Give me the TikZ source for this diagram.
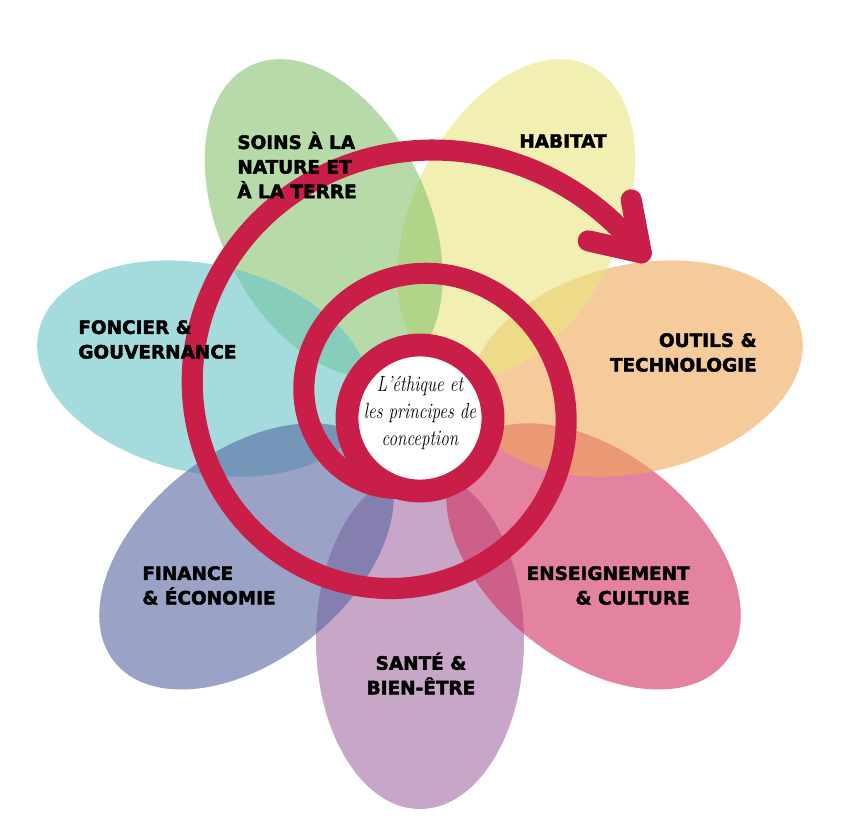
\documentclass[tikz,border=0pt]{standalone}
\usepackage{fontspec}
\usepackage{tikz}
\usetikzlibrary{calc}
\newfontfamily\capsfont{DejaVu Sans}[BoldFeatures={FakeBold=2.2}]
\definecolor{petMauve}{HTML}{A26BA3}
\definecolor{petPink}{HTML}{D23061}
\definecolor{petOrange}{HTML}{F0A85A}
\definecolor{petYellow}{HTML}{E8E67F}
\definecolor{petGreen}{HTML}{87C36E}
\definecolor{petCyan}{HTML}{67C5C8}
\definecolor{petBlue}{HTML}{5766A0}
\definecolor{spiralred}{HTML}{C81E48}
\tikzset{
  petaltext/.style={font=\capsfont\bfseries\fontsize{10.5}{14}\selectfont,inner sep=0pt},
  spiralline/.style={draw=spiralred,line width=12pt,line cap=round,line join=round},
  centertext/.style={font=\itshape\fontsize{12.5}{15.4}\selectfont,align=center,
    inner sep=0pt,xscale=.78,transform shape}
}
\newcommand{\petal}[2]{%
  \fill[#1,fill opacity=.6,rotate=#2] (4.44,0) ellipse [x radius=3.38,y radius=2.08];
}
% radius of the spiral, t in degrees
\newcommand{\spr}[1]{(1.78+0.0044*#1+0.036*(#1/100)^2)}

\begin{document}
\begin{tikzpicture}
\useasboundingbox (-8.4,-8.0) rectangle (8.6,8.36);
% petals, back to front
\petal{petMauve}{270} \petal{petPink}{321.43} \petal{petOrange}{12.86}
\petal{petYellow}{64.29} \petal{petGreen}{115.71} \petal{petCyan}{167.14}
\petal{petBlue}{218.57}
% spiral
\draw[spiralline] plot[domain=-20:577,samples=160,smooth]
  ({-0.2+\spr{\x}*cos(250-\x)},{0.3+\spr{\x}*sin(250-\x)});
\coordinate (tip) at ({-0.2+\spr{577}*cos(-327)},{0.3+\spr{577}*sin(-327)});
\coordinate (barbA) at ($(tip)+(-0.2,1.06)$);
\coordinate (barbB) at ($(tip)+(-1.06,0.24)$);
\draw[spiralline] (barbA) -- (tip) -- (barbB);
\draw[draw=spiralred,line width=13pt,fill=white] (0,0) circle (1.46);
\node[centertext] (ethics) at (0,0.1) {L’éthique et\\les principes de\\conception};
% labels
\node[petaltext,anchor=west,align=left] (soins) at (-3.66,5.06) {SOINS À LA\\NATURE ET\\À LA TERRE};
\node[petaltext] (habitat) at (2.86,5.54) {HABITAT};
\node[petaltext,anchor=west,align=left] (foncier) at (-6.84,1.57) {FONCIER \&\\GOUVERNANCE};
\node[petaltext,anchor=east,align=right] (outils) at (6.74,1.31) {OUTILS \&\\TECHNOLOGIE};
\node[petaltext,anchor=east,align=right] (enseign) at (5.4,-3.35) {ENSEIGNEMENT\\\& CULTURE};
\node[petaltext,anchor=west,align=left] (finance) at (-5.56,-3.35) {FINANCE\\\& ÉCONOMIE};
\node[petaltext,align=center] (sante) at (0.02,-5.11) {SANTÉ \&\\BIEN-ÊTRE};
\end{tikzpicture}
\end{document}
